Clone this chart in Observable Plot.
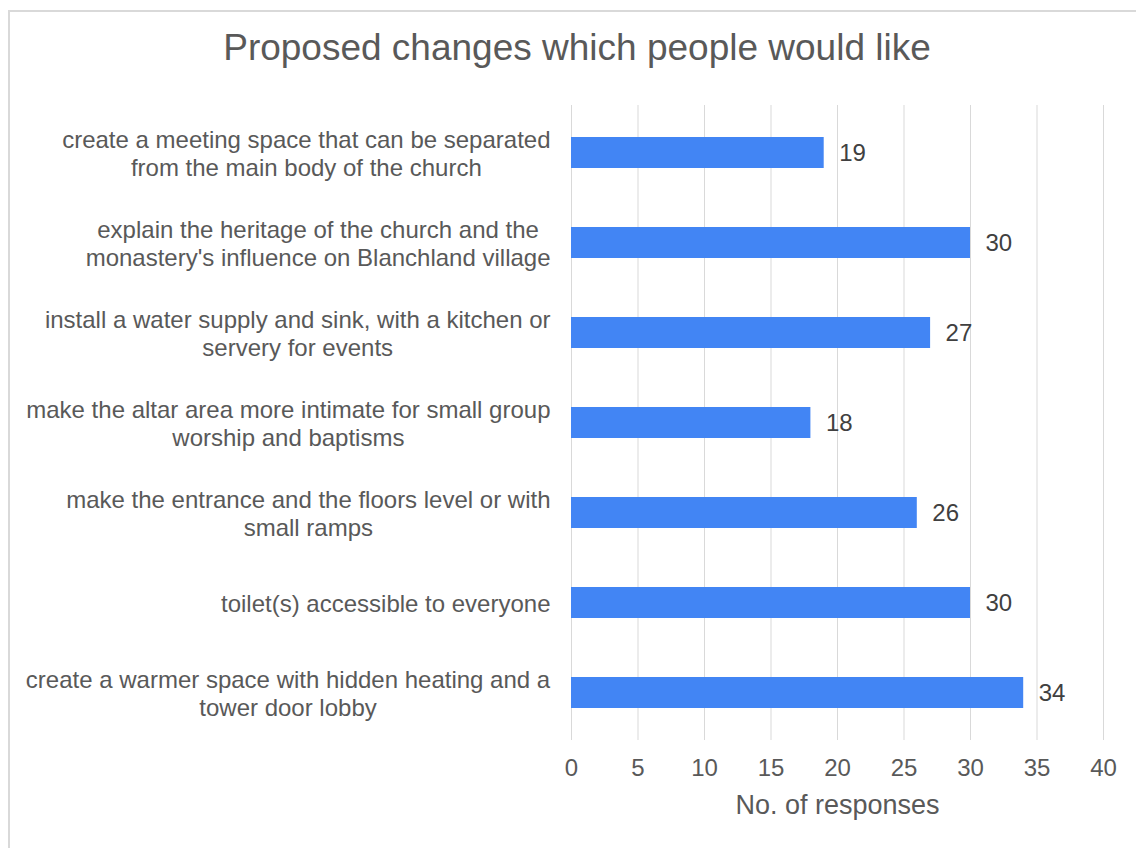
<!DOCTYPE html>
<html>
<head>
<meta charset="utf-8">
<script src="https://cdn.jsdelivr.net/npm/d3@7"></script>
<script src="https://cdn.jsdelivr.net/npm/@observablehq/plot@0.6"></script>
<style>
  html, body { margin: 0; padding: 0; background: #fff; overflow: hidden; width: 1136px; height: 848px; }
  #frame { position: absolute; left: 8px; top: 10px; width: 1200px; height: 900px; border: 2px solid #d9d9d9; box-sizing: border-box; }
  #wrap { position: absolute; left: 0; top: 0; width: 1136px; }
  #title { height: 90px; box-sizing: border-box; padding-top: 28px; padding-left: 18px; text-align: center;
    font-family: "Liberation Sans", Arial, sans-serif; font-size: 37px; color: #595959; line-height: 40px; white-space: nowrap; }
  svg { display: block; }
</style>
</head>
<body>
<div id="frame"></div>
<div id="wrap">
  <div id="title">Proposed changes which people would like</div>
  <div id="chart"></div>
</div>
<script>
const categories = [
  "create a meeting space that can be separated\nfrom the main body of the church",
  "explain the heritage of the church and the\nmonastery's influence on Blanchland village",
  "install a water supply and sink, with a kitchen or\nservery for events",
  "make the altar area more intimate for small group\nworship and baptisms",
  "make the entrance and the floors level or with\nsmall ramps",
  "toilet(s) accessible to everyone",
  "create a warmer space with hidden heating and a\ntower door lobby"
];
const values = [19, 30, 27, 18, 26, 30, 34];
const xTicks = [0, 5, 10, 15, 20, 25, 30, 35, 40];

const data = categories.map((c, i) => ({category: c, value: values[i]}));

const chart = Plot.plot({
  width: 1136,
  height: 758,
  marginLeft: 571,
  marginRight: 33,
  marginTop: 15,
  marginBottom: 108,
  style: {fontFamily: "'Liberation Sans', Arial, sans-serif", fontSize: "24px", color: "#595959", background: "transparent"},
  x: {domain: [0, 40]},
  y: {domain: categories, paddingInner: 0.65, paddingOuter: 0.325},
  marks: [
    Plot.gridX(xTicks, {stroke: "#d9d9d9", strokeOpacity: 1, strokeWidth: 1}),
    Plot.barX(data, {x: "value", y: "category", fill: "#4285f4"}),
    Plot.text(data, {x: "value", y: "category", text: d => String(d.value), textAnchor: "start", dx: 15, fill: "#404040", fontSize: 24}),
    Plot.axisX(xTicks, {tickSize: 0, tickPadding: 18, fill: "#595959", fontSize: 24, label: null}),
    Plot.axisX({ticks: [], tickSize: 0, label: "No. of responses", labelAnchor: "center", labelArrow: "none", labelOffset: 73, fill: "#595959", fontSize: 27}),
    Plot.axisY({tickSize: 0, tickPadding: 21, fill: "#595959", label: null, lineHeight: 1.17, fontSize: 24})
  ]
});
document.getElementById("chart").appendChild(chart);

// center-align the lines of each multi-line category label, keeping the block right-aligned
d3.select(chart).selectAll("g[aria-label='y-axis tick label'] text").each(function() {
  const w = this.getBBox().width;
  const t = d3.select(this);
  t.attr("text-anchor", "middle");
  const spans = t.selectAll("tspan");
  if (spans.size()) spans.attr("x", -w / 2);
  else t.attr("x", -w / 2);
});
</script>
</body>
</html>
